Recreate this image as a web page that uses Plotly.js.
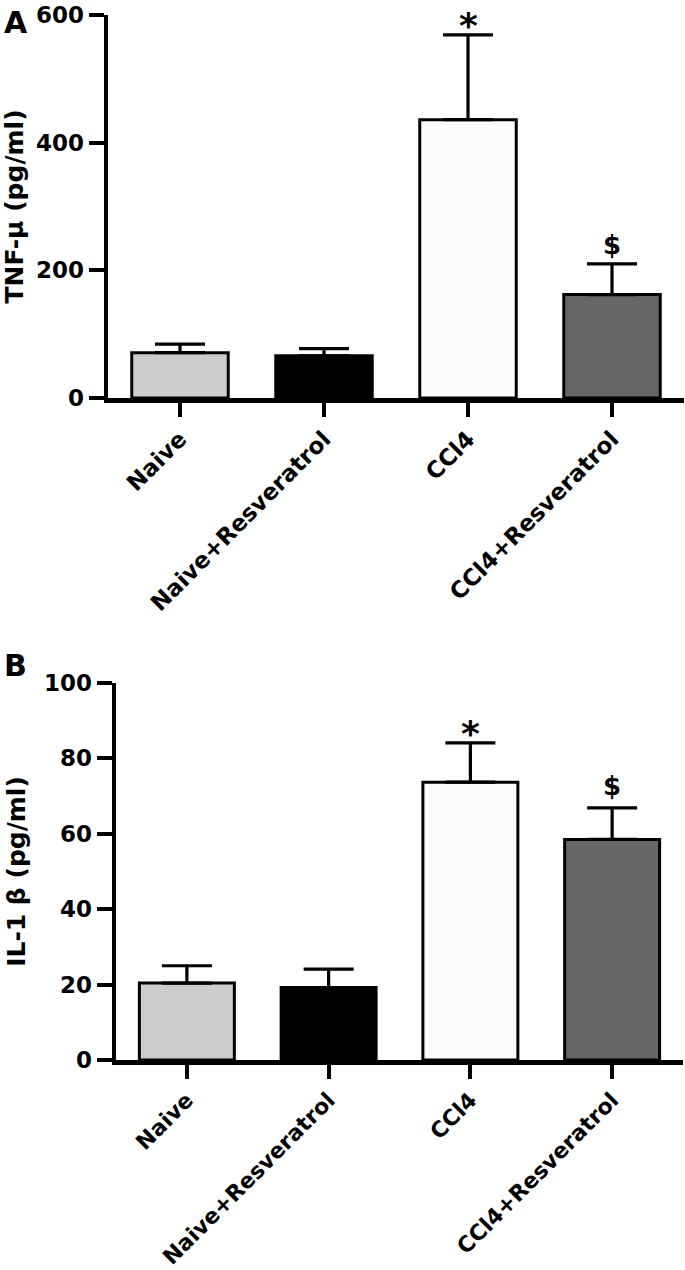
<!DOCTYPE html>
<html>
<head>
<meta charset="utf-8">
<script src="https://cdn.plot.ly/plotly-3.0.1.min.js"></script>
<style>html,body{margin:0;padding:0;background:#fff;}#chart{width:685px;height:1270px;}</style>
</head>
<body>
<div id="chart"></div>
<script>
// ---- data ----
const groups = ['Naive', 'Naive+Resveratrol', 'CCl4', 'CCl4+Resveratrol'];
const barColors = ['#cccccc', '#000000', '#fcfcfc', '#666666'];
const tnfMean = [71, 66, 436, 162];
const tnfSem = [13.5, 11.5, 133, 48];
const il1Mean = [20.4, 19.2, 73.7, 58.5];
const il1Sem = [4.6, 4.9, 10.4, 8.4];
const sigMarks = ['', '', '*', '$'];
const tnfTicks = [0, 200, 400, 600];
const il1Ticks = [0, 20, 40, 60, 80, 100];

const W = 685, H = 1270;
const FONT = 'DejaVu Sans, Arial, sans-serif';

function barTrace(vals, errs, xa, ya) {
  return {
    type: 'bar', x: groups, y: vals, xaxis: xa, yaxis: ya,
    width: 0.67,
    marker: {color: barColors, line: {color: '#000', width: 3}},
    error_y: {type: 'data', symmetric: false, array: errs, arrayminus: errs.map(() => 0),
              color: '#000', thickness: 3.2, width: 25},
    showlegend: false, hoverinfo: 'skip'
  };
}

function axisX(domain, anchor, fsize) {
  return {
    domain: domain, anchor: anchor, range: [-0.5, 3.5], type: 'category',
    showline: true, linecolor: '#000', linewidth: 4.5,
    ticks: 'outside', ticklen: 14, tickwidth: 4, tickcolor: '#000',
    tickangle: -45, tickfont: {family: FONT, size: fsize, color: '#000', weight: 'bold'},
    showgrid: false, zeroline: false, fixedrange: true
  };
}
function axisY(domain, anchor, range, ticks, title) {
  return {
    domain: domain, anchor: anchor, range: range, tickvals: ticks,
    showline: true, linecolor: '#000', linewidth: 4.5,
    ticks: 'outside', ticklen: 15, tickwidth: 4, tickcolor: '#000',
    tickfont: {family: FONT, size: 23, color: '#000', weight: 'bold'},
    title: {text: title, font: {family: FONT, size: 25, color: '#000', weight: 'bold'}, standoff: 12},
    showgrid: false, zeroline: false, fixedrange: true
  };
}

const annotations = [];
function addMarks(vals, errs, xref, yref, shifts) {
  sigMarks.forEach((m, i) => {
    if (!m) return;
    annotations.push({
      x: groups[i], y: vals[i] + errs[i], xref: xref, yref: yref,
      text: '<b>' + m + '</b>', showarrow: false, yanchor: 'middle',
      yshift: shifts[m],
      font: {family: FONT, size: m === '*' ? 36 : 26, color: '#000'}
    });
  });
}
addMarks(tnfMean, tnfSem, 'x', 'y', {'*': 9, '$': 19});
addMarks(il1Mean, il1Sem, 'x2', 'y2', {'*': 9, '$': 22});

annotations.push({xref: 'paper', yref: 'paper', x: 2 / W, y: 1 - 3 / H, xanchor: 'left', yanchor: 'top',
  text: '<b>A</b>', showarrow: false, font: {family: FONT, size: 30, color: '#000'}});
annotations.push({xref: 'paper', yref: 'paper', x: 2 / W, y: 1 - 646 / H, xanchor: 'left', yanchor: 'top',
  text: '<b>B</b>', showarrow: false, font: {family: FONT, size: 30, color: '#000'}});

const data = [
  barTrace(tnfMean, tnfSem, 'x', 'y'),
  barTrace(il1Mean, il1Sem, 'x2', 'y2')
];

const layout = {
  width: W, height: H,
  margin: {l: 0, r: 0, t: 0, b: 0},
  paper_bgcolor: '#fff', plot_bgcolor: '#fff',
  xaxis: axisX([108 / W, 684 / W], 'y', 23),
  yaxis: axisY([1 - 398 / H, 1 - 15 / H], 'x', [0, 600], tnfTicks, 'TNF-μ (pg/ml)'),
  xaxis2: axisX([116 / W, 683 / W], 'y2', 22),
  yaxis2: axisY([1 - 1060 / H, 1 - 683 / H], 'x2', [0, 100], il1Ticks, 'IL-1 β (pg/ml)'),
  annotations: annotations,
  bargap: 0.33
};

Plotly.newPlot('chart', data, layout, {staticPlot: true, displayModeBar: false});
</script>
</body>
</html>
